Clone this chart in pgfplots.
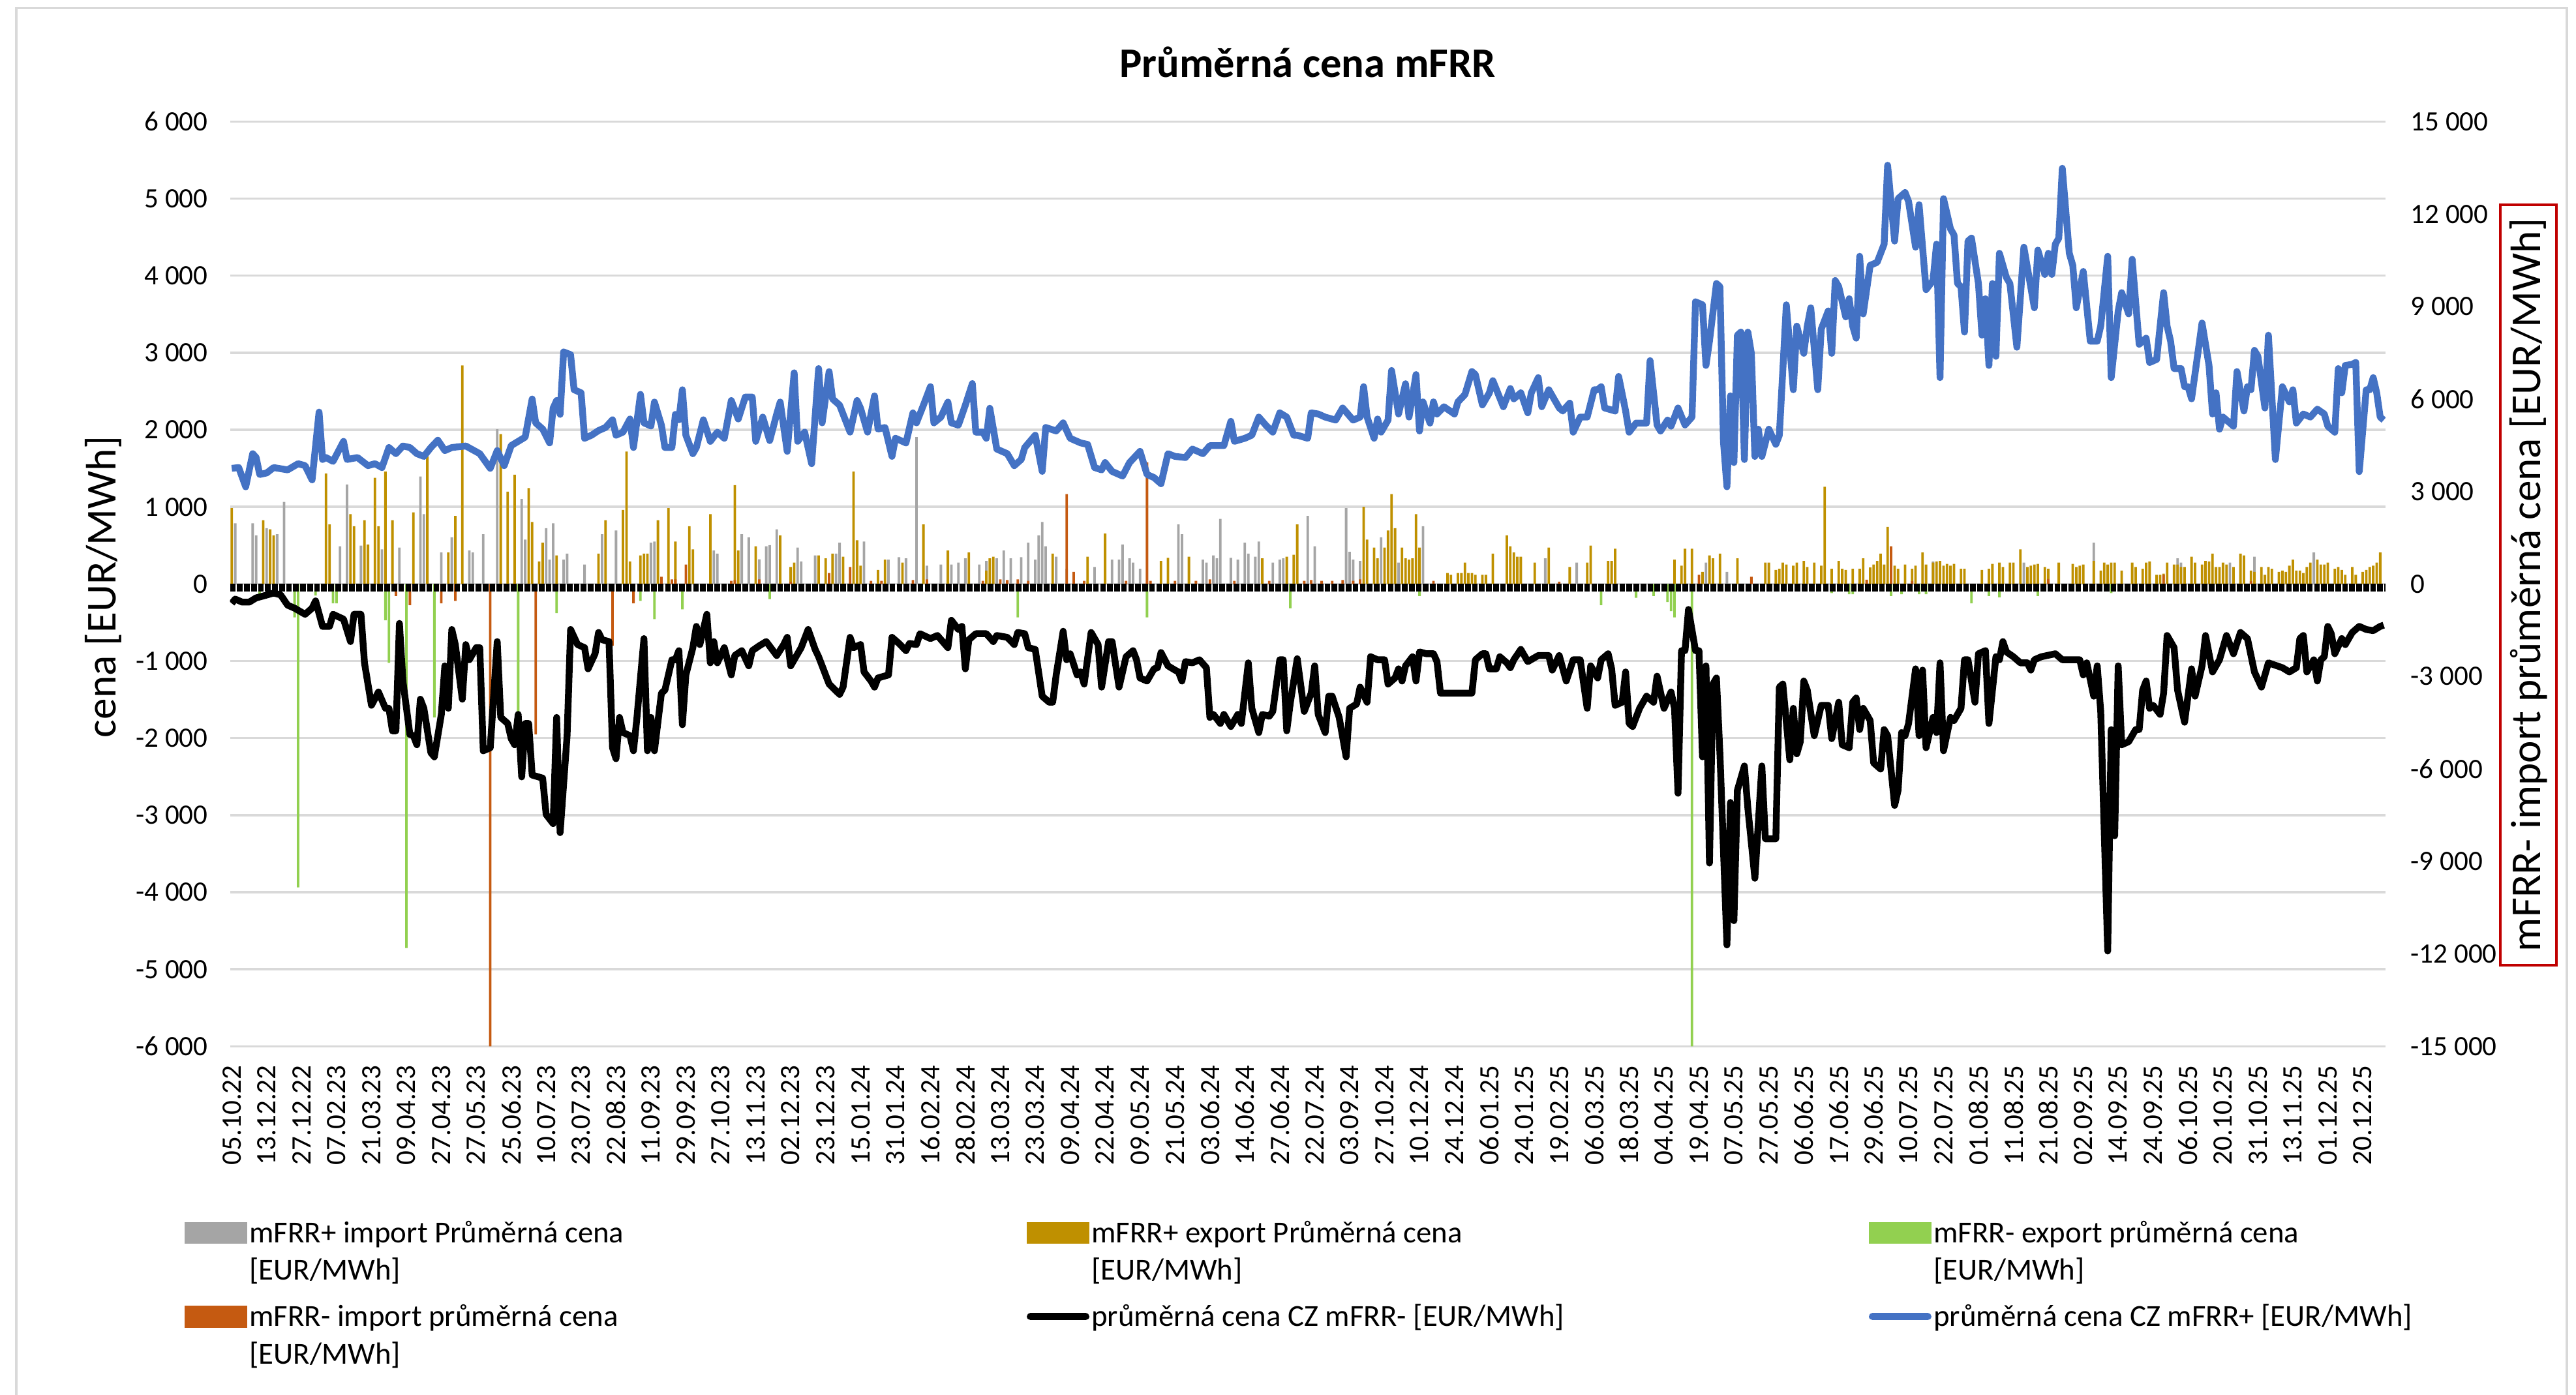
\documentclass[border=0pt]{standalone}
\usepackage{pgfplots}
\pgfplotsset{compat=1.18}
\usepackage{fontspec}
\setmainfont{Carlito}

\definecolor{grayC}{HTML}{A5A5A5}
\definecolor{goldC}{HTML}{BF9000}
\definecolor{greenC}{HTML}{92D050}
\definecolor{orangeC}{HTML}{C55A11}
\definecolor{blueC}{HTML}{4472C4}
\definecolor{gridC}{HTML}{D9D9D9}
\definecolor{boxred}{HTML}{C00000}

\pgfplotsset{
  barswatch/.style={legend image code/.code={
    \path[draw=none, fill=none] (0pt,-7pt) rectangle (13.8pt,7pt);
    \fill[#1, draw=none] (0pt,2.2pt) rectangle (13.8pt,7pt);}},
  lineswatch/.style={legend image code/.code={
    \path[draw=none, fill=none] (0pt,-7pt) rectangle (13.8pt,7pt);
    \draw[#1, fill=none, line width=1.6pt, line cap=round] (0.8pt,4.6pt) -- (13pt,4.6pt);}},
  ticks/.style={font=\fontsize{6.2}{7}\selectfont},
}

\begin{document}
\begin{tikzpicture}
\path[use as bounding box] (0,0) rectangle (569pt,-308.1pt);
\draw[gridC, line width=0.5pt] (3.6pt,-312pt) -- (3.6pt,-1.8pt) -- (567pt,-1.8pt) -- (567pt,-312pt);

% right scale
\begin{axis}[
  at={(50.8pt,-231.16pt)}, anchor=south west,
  scale only axis, width=476.1pt, height=204.3pt,
  xmin=-0.5, xmax=616.5, ymin=-15000, ymax=15000,
  hide x axis, axis y line*=right, axis line style={draw=none},
  major tick length=0pt,
  ytick={-15000,-12000,...,15000},
  yticklabel style={ticks, anchor=west, inner sep=0pt},
  yticklabel shift=5.4pt,
  /pgf/number format/assume math mode=true,
  /pgf/number format/1000 sep={\ },
  scaled y ticks=false,
  ylabel={mFRR- import průměrná cena [EUR/MWh]},
  every axis y label/.style={at={(axis description cs:1.0663,0.499)}, anchor=center, rotate=90,
    draw=boxred, line width=0.6pt, inner xsep=3pt, inner ysep=2pt, font=\fontsize{9.4}{11}\selectfont},
]
\addplot[draw=none, forget plot] coordinates {(0,0)};
\end{axis}

\begin{axis}[
  at={(50.8pt,-231.16pt)}, anchor=south west,
  scale only axis, width=476.1pt, height=204.3pt,
  xmin=-0.5, xmax=616.5, ymin=-6000, ymax=6000,
  axis line style={draw=none},
  major tick length=0pt,
  xtick={0,10,...,610},
  xticklabels={05.10.22,13.12.22,27.12.22,07.02.23,21.03.23,09.04.23,27.04.23,27.05.23,25.06.23,10.07.23,
    23.07.23,22.08.23,11.09.23,29.09.23,27.10.23,13.11.23,02.12.23,23.12.23,15.01.24,31.01.24,
    16.02.24,28.02.24,13.03.24,23.03.24,09.04.24,22.04.24,09.05.24,21.05.24,03.06.24,14.06.24,
    27.06.24,22.07.24,03.09.24,27.10.24,10.12.24,24.12.24,06.01.25,24.01.25,19.02.25,06.03.25,
    18.03.25,04.04.25,19.04.25,07.05.25,27.05.25,06.06.25,17.06.25,29.06.25,10.07.25,22.07.25,
    01.08.25,11.08.25,21.08.25,02.09.25,14.09.25,24.09.25,06.10.25,20.10.25,31.10.25,13.11.25,
    01.12.25,20.12.25},
  xticklabel style={ticks, rotate=90, anchor=east, inner sep=0pt},
  xticklabel shift=4pt,
  ytick={-6000,-5000,...,6000},
  yticklabel style={ticks, anchor=east, inner sep=0pt},
  yticklabel shift=4.7pt,
  ymajorgrids, grid style={gridC, line width=0.5pt},
  /pgf/number format/assume math mode=true,
  /pgf/number format/1000 sep={\ },
  scaled y ticks=false,
  title={Průměrná cena mFRR},
  every axis title/.style={at={(axis description cs:0.5,1.064)}, anchor=center,
    font=\bfseries\fontsize{9.3}{11}\selectfont},
  ylabel={cena [EUR/MWh]},
  every axis y label/.style={at={(axis description cs:-0.0587,0.497)}, anchor=center, rotate=90,
    font=\fontsize{9.4}{11}\selectfont},
  legend columns=3,
  legend cell align=left,
  legend style={at={(axis description cs:-0.0214,-0.180)}, anchor=north west,
    draw=none, fill=none, inner sep=0pt,
    font=\fontsize{6.75}{8.35}\selectfont,
    column sep=0pt, row sep=0.8pt,
    nodes={inner sep=0.5pt, text depth=},
    /tikz/every even column/.append style={column sep=63.2pt}},
]
% mFRR+ import
\addplot[ybar, bar width=0.55pt, bar shift=0pt, draw=none, fill=grayC, barswatch=grayC] coordinates {
(1,787)(6,787)(7,630)(10,724)(13,646)(15,1063)(31,488)(33,1291)(37,496)(43,449)(48,472)(54,1394)(55,906)
(60,409)(63,606)(68,433)(69,409)(72,646)(76,2008)(83,1102)(84,575)(90,724)(91,315)(92,787)(95,315)(96,394)
(101,252)(106,646)(110,693)(120,535)(121,551)(138,433)(139,394)(146,646)(148,606)(151,320)(153,488)(154,504)
(156,709)(162,472)(163,291)(167,370)(173,394)(174,535)(181,551)(188,315)(191,346)(193,331)(196,1906)(199,236)
(203,252)(206,252)(208,276)(210,331)(214,252)(216,299)(219,331)(221,433)(223,331)(226,346)(228,535)(230,315)
(231,630)(232,803)(233,488)(236,354)(239,197)(247,220)(252,315)(254,315)(255,512)(257,331)(258,276)(260,197)
(271,772)(272,646)(278,315)(279,276)(281,370)(282,331)(283,843)(286,339)(288,315)(290,535)(291,394)(293,354)
(294,551)(298,276)(300,315)(301,331)(308,882)(310,488)(319,984)(320,417)(321,315)(323,299)(329,606)(334,276)
(341,748)(376,331)(385,276)(422,276)(428,157)(487,291)(513,276)(533,535)(557,331)(558,276)(572,276)(579,354)
(596,409)};
\addlegendentry{\parbox[t]{108pt}{\strut mFRR+ import Průměrná cena\\\strut [EUR/MWh]}}
% mFRR+ export
\addplot[ybar, bar width=0.55pt, bar shift=0pt, draw=none, fill=goldC, barswatch=goldC] coordinates {
(0,984)(9,827)(11,709)(12,630)(27,1433)(28,772)(34,906)(35,748)(38,827)(39,512)(41,1378)(42,748)(44,1457)
(46,827)(52,929)(56,1654)(62,409)(64,882)(66,2835)(77,1945)(79,1197)(81,1417)(85,1244)(86,803)(88,291)(89,535)
(93,370)(105,394)(107,827)(112,961)(113,1717)(114,291)(117,370)(118,394)(119,394)(122,827)(125,984)(127,551)
(131,748)(132,449)(137,906)(144,1283)(145,433)(150,488)(157,630)(160,220)(161,276)(168,370)(170,331)(172,394)
(175,354)(178,1457)(179,567)(180,236)(185,181)(187,315)(192,276)(198,772)(205,433)(211,409)(216,173)(217,331)
(218,354)(235,394)(245,354)(250,654)(266,299)(268,339)(274,354)(295,331)(302,354)(304,378)(305,772)(324,1000)
(325,575)(327,472)(328,331)(330,472)(331,693)(332,1165)(333,724)(335,472)(336,331)(337,315)(338,331)(339,906)
(340,472)(348,142)(349,118)(351,142)(352,142)(353,276)(354,142)(355,142)(356,118)(358,118)(359,118)(361,394)
(365,630)(366,488)(367,409)(368,354)(369,354)(373,276)(377,472)(383,220)(388,276)(389,496)(394,299)(395,299)
(396,457)(413,315)(415,236)(416,457)(418,457)(421,157)(423,370)(424,331)(426,394)(431,331)(439,276)(440,276)
(442,181)(443,197)(444,276)(445,252)(447,236)(448,276)(450,299)(451,220)(453,276)(455,236)(456,1260)(458,197)
(460,299)(461,197)(462,181)(464,197)(466,197)(467,331)(469,213)(470,252)(471,299)(472,394)(473,252)(474,740)
(476,236)(477,197)(479,252)(481,197)(482,236)(484,409)(485,252)(487,276)(488,291)(489,299)(490,236)(491,260)
(492,236)(493,260)(495,197)(496,197)(501,181)(503,197)(504,260)(506,276)(507,220)(509,276)(510,276)(512,449)
(514,220)(515,236)(516,252)(517,260)(519,220)(520,197)(523,276)(527,260)(528,220)(529,236)(530,252)(533,299)
(535,173)(536,276)(537,252)(538,276)(539,276)(541,173)(544,276)(545,220)(547,197)(548,276)(549,291)(551,118)
(552,118)(553,134)(554,276)(556,252)(557,252)(558,220)(559,220)(561,354)(562,276)(564,252)(565,299)(566,291)
(567,394)(568,220)(569,220)(570,276)(571,252)(573,220)(575,394)(576,370)(578,173)(579,157)(581,220)(582,118)
(583,220)(584,197)(586,157)(587,173)(588,157)(589,236)(590,315)(591,173)(592,173)(593,142)(594,220)(595,276)
(597,315)(598,252)(599,252)(600,276)(602,197)(603,220)(604,181)(605,118)(607,220)(608,118)(610,157)(611,181)
(612,220)(613,236)(614,276)(615,409)};
\addlegendentry{\parbox[t]{108pt}{\strut mFRR+ export Průměrná cena\\\strut [EUR/MWh]}}
% mFRR- export
\addplot[ybar, bar width=0.55pt, bar shift=0pt, draw=none, fill=greenC, barswatch=greenC] coordinates {
(8,-142)(18,-433)(19,-3937)(24,-150)(29,-252)(30,-252)(44,-472)(45,-1024)(50,-4724)(58,-1732)(82,-1811)
(93,-378)(117,-220)(121,-457)(129,-331)(154,-197)(169,-60)(225,-433)(262,-433)(303,-315)(340,-157)(392,-276)
(402,-181)(407,-157)(411,-236)(412,-354)(413,-433)(418,-6000)(458,-118)(463,-134)(464,-134)(475,-157)
(478,-134)(483,-134)(485,-134)(498,-252)(503,-157)(506,-173)(517,-157)(538,-118)};
\addlegendentry{\parbox[t]{108pt}{\strut mFRR- export průměrná cena\\\strut [EUR/MWh]}}
% mFRR- import
\addplot[ybar, bar width=0.55pt, bar shift=0pt, draw=none, fill=orangeC, barswatch=orangeC] coordinates {
(47,-157)(51,-276)(60,-252)(64,-220)(74,-6000)(87,-1953)(109,-803)(115,-252)(123,94)(126,60)(127,60)(130,252)
(143,40)(144,50)(151,60)(160,30)(171,142)(177,220)(183,40)(186,40)(195,50)(199,60)(215,40)(220,60)(222,50)
(225,60)(228,40)(239,1165)(241,157)(244,40)(256,40)(262,1575)(263,40)(270,40)(276,40)(280,60)(287,40)(297,40)
(307,40)(309,50)(312,40)(315,40)(318,50)(321,40)(323,60)(344,40)(380,30)(420,118)(435,94)(468,55)(475,488)
(481,39)(520,63)(553,118)(578,39)};
\addlegendentry{\parbox[t]{108pt}{\strut mFRR- import průměrná cena\\\strut [EUR/MWh]}}
% category axis line
\addplot[black, line width=1.7pt, dash pattern=on 1.25pt off 0.3pt, forget plot] coordinates {(-0.5,-50) (616.5,-50)};
% CZ mFRR-
\addplot[black, line width=1.5pt, line join=round, mark=none, lineswatch=black] coordinates {
(0,-252)(1,-197)(3,-236)(5,-236)(7,-181)(9,-157)(12,-118)(14,-142)(16,-276)(18,-315)(21,-394)(23,-315)(24,-220)
(26,-551)(28,-551)(29,-394)(32,-457)(34,-748)(35,-394)(37,-394)(38,-1024)(40,-1575)(42,-1402)(44,-1614)(45,-1614)
(46,-1906)(47,-1906)(48,-512)(49,-1260)(51,-1953)(52,-1969)(53,-2087)(54,-1496)(55,-1614)(57,-2189)(58,-2244)
(60,-1693)(61,-1063)(62,-1614)(63,-591)(64,-787)(66,-1496)(67,-787)(68,-984)(70,-827)(71,-827)(72,-2165)
(74,-2126)(76,-748)(77,-1732)(79,-1811)(80,-2008)(81,-2087)(82,-1693)(83,-2504)(84,-1811)(85,-1811)(86,-2480)
(89,-2520)(90,-2992)(92,-3110)(93,-1732)(94,-3228)(96,-1969)(97,-591)(99,-787)(101,-827)(102,-1102)(104,-906)
(105,-630)(106,-724)(108,-748)(109,-2126)(110,-2268)(111,-1732)(112,-1929)(114,-1969)(115,-2165)(116,-1732)
(118,-709)(119,-2165)(120,-1732)(121,-2165)(123,-1417)(124,-1378)(126,-984)(127,-984)(128,-866)(129,-1827)
(130,-1181)(132,-827)(133,-551)(134,-787)(136,-394)(137,-1024)(138,-748)(139,-1024)(141,-827)(143,-1181)
(144,-929)(146,-866)(148,-1063)(149,-866)(151,-803)(153,-748)(156,-929)(158,-787)(159,-693)(160,-1063)
(163,-827)(165,-591)(167,-850)(168,-945)(171,-1299)(174,-1433)(175,-1339)(177,-693)(178,-827)(180,-787)
(181,-1142)(183,-1260)(184,-1339)(185,-1220)(188,-1181)(189,-693)(191,-772)(193,-866)(194,-772)(196,-787)
(197,-646)(200,-709)(202,-669)(205,-827)(206,-472)(208,-591)(209,-551)(210,-1102)(211,-724)(213,-646)(216,-646)
(218,-748)(219,-669)(222,-693)(224,-787)(225,-630)(227,-646)(228,-827)(230,-850)(232,-1457)(234,-1535)
(235,-1535)(236,-1181)(238,-614)(239,-984)(240,-906)(242,-1181)(243,-1142)(244,-1299)(246,-630)(247,-709)
(248,-787)(249,-1339)(251,-748)(252,-748)(254,-1339)(256,-945)(258,-866)(259,-984)(260,-1220)(262,-1260)
(264,-1102)(265,-1087)(266,-890)(268,-1063)(270,-1118)(271,-1142)(272,-1260)(273,-1008)(275,-1024)(277,-984)
(279,-1087)(280,-1732)(281,-1693)(283,-1811)(284,-1693)(286,-1850)(288,-1693)(289,-1811)(291,-1024)(292,-1614)
(294,-1929)(295,-1693)(297,-1717)(298,-1654)(300,-984)(301,-984)(302,-1906)(303,-1550)(305,-970)(307,-1654)
(309,-1417)(310,-1063)(311,-1693)(313,-1929)(314,-1457)(315,-1457)(317,-1732)(319,-2244)(320,-1614)(322,-1559)
(323,-1339)(325,-1535)(326,-945)(328,-984)(330,-984)(331,-1299)(333,-1220)(334,-1102)(335,-1260)(336,-1063)
(338,-945)(339,-1260)(340,-882)(342,-906)(344,-906)(345,-1008)(346,-1417)(355,-1417)(356,-984)(358,-906)
(359,-906)(360,-1102)(362,-1102)(363,-945)(365,-1024)(366,-1087)(367,-984)(369,-850)(371,-1008)(374,-929)
(377,-929)(378,-1118)(380,-929)(382,-1260)(384,-984)(386,-984)(388,-1614)(389,-1063)(391,-1220)(392,-984)
(394,-906)(395,-1102)(396,-1575)(398,-1535)(399,-1142)(400,-1811)(401,-1850)(403,-1614)(405,-1457)(407,-1535)
(408,-1197)(410,-1614)(412,-1402)(413,-1614)(414,-2717)(415,-866)(416,-866)(417,-331)(419,-866)(420,-866)
(421,-2244)(422,-1063)(423,-3622)(424,-1299)(425,-1220)(426,-2205)(428,-4685)(429,-2835)(430,-4370)(431,-2677)
(433,-2362)(434,-2913)(436,-3819)(438,-2362)(439,-3307)(442,-3307)(443,-1339)(444,-1299)(446,-2283)(447,-1614)
(448,-2205)(449,-2047)(450,-1260)(451,-1378)(453,-1969)(455,-1575)(457,-1575)(458,-2008)(460,-1535)(461,-2087)
(463,-2126)(464,-1535)(465,-1480)(466,-1890)(467,-1614)(469,-1772)(470,-2323)(472,-2402)(473,-1890)(474,-1969)
(476,-2874)(477,-2677)(478,-1929)(479,-1969)(480,-1811)(482,-1102)(483,-1969)(484,-1118)(485,-2126)(487,-1732)
(488,-1929)(489,-1024)(490,-2165)(492,-1732)(493,-1772)(495,-1614)(496,-984)(497,-984)(499,-1535)(500,-906)
(502,-866)(503,-1811)(505,-945)(506,-984)(507,-748)(508,-882)(510,-945)(512,-1024)(514,-1024)(515,-1118)
(516,-984)(518,-945)(522,-906)(524,-984)(529,-984)(530,-1181)(531,-1024)(533,-1457)(534,-1063)(535,-1654)
(537,-4764)(538,-1890)(539,-3268)(540,-1063)(541,-2087)(543,-2047)(545,-1890)(546,-1890)(547,-1378)(548,-1260)
(549,-1614)(550,-1575)(552,-1693)(553,-1417)(554,-669)(556,-827)(557,-1378)(559,-1795)(561,-1102)(562,-1457)
(564,-1063)(565,-669)(567,-1142)(569,-984)(571,-669)(573,-906)(575,-630)(577,-709)(579,-1142)(581,-1339)
(583,-1024)(587,-1087)(589,-1142)(591,-1087)(592,-709)(593,-669)(594,-1142)(596,-984)(597,-1260)(598,-984)
(599,-945)(600,-551)(601,-646)(602,-906)(604,-709)(605,-787)(607,-630)(609,-551)(611,-591)(613,-606)(615,-551)
(616,-535)};
\addlegendentry{\parbox[t]{108pt}{\strut průměrná cena CZ mFRR- [EUR/MWh]\\\strut}}
% CZ mFRR+
\addplot[blueC, line width=1.5pt, line join=round, mark=none, lineswatch=blueC] coordinates {
(0,1500)(2,1510)(4,1260)(6,1690)(7,1640)(8,1420)(10,1440)(12,1510)(16,1480)(19,1560)(21,1535)(23,1350)(25,2230)
(26,1615)(27,1640)(29,1590)(32,1850)(33,1615)(36,1640)(39,1535)(41,1560)(43,1510)(45,1770)(47,1690)(49,1790)
(51,1770)(53,1690)(55,1655)(57,1770)(59,1865)(61,1730)(63,1770)(67,1790)(71,1690)(74,1500)(76,1730)(78,1535)
(80,1795)(82,1850)(84,1905)(86,2400)(87,2090)(89,2010)(91,1830)(92,2280)(93,2380)(94,2200)(95,3010)(97,2975)
(98,2520)(100,2480)(101,1890)(103,1930)(105,1990)(107,2030)(109,2130)(110,1930)(112,1970)(114,2140)(115,1770)
(117,2460)(118,2090)(120,2050)(121,2360)(123,2060)(124,1770)(126,1770)(127,2200)(128,2130)(129,2520)(130,1930)
(132,1690)(133,1770)(135,2130)(137,1850)(139,1970)(141,1890)(143,2380)(145,2140)(147,2425)(149,2425)(150,1850)
(152,2165)(154,1860)(156,2205)(157,2360)(159,1720)(161,2740)(162,1850)(164,1970)(166,1560)(168,2795)(169,2090)
(171,2755)(172,2400)(174,2320)(177,1970)(179,2380)(180,2280)(182,1970)(184,2440)(185,2010)(187,2030)(189,1655)
(190,1890)(193,1830)(195,2220)(196,2090)(198,2320)(200,2560)(201,2090)(203,2165)(205,2360)(206,2090)(208,2060)
(210,2320)(212,2600)(213,1970)(215,1970)(216,1890)(217,2280)(219,1750)(222,1690)(224,1535)(226,1615)(227,1770)
(230,1930)(232,1460)(233,2030)(236,1985)(238,2090)(240,1890)(243,1830)(245,1810)(247,1510)(249,1480)(250,1575)
(252,1460)(255,1400)(257,1575)(260,1720)(262,1420)(264,1380)(266,1300)(268,1690)(270,1655)(273,1640)(275,1750)
(278,1690)(280,1795)(284,1795)(286,2110)(287,1850)(290,1890)(292,1930)(294,2165)(296,2060)(298,1970)(300,2220)
(302,2165)(304,1930)(305,1930)(308,1890)(309,2220)(311,2205)(313,2165)(316,2126)(318,2283)(321,2126)(323,2165)
(324,2560)(325,2165)(327,1890)(328,2140)(329,1970)(331,2126)(332,2770)(334,2205)(336,2598)(337,2165)(339,2717)
(340,1984)(341,2362)(343,2087)(344,2362)(345,2205)(347,2299)(350,2205)(351,2362)(353,2457)(355,2756)(356,2717)
(358,2323)(360,2480)(361,2638)(364,2299)(366,2535)(367,2402)(369,2480)(371,2220)(372,2480)(374,2677)(375,2299)
(377,2520)(380,2283)(381,2244)(383,2346)(384,1969)(386,2165)(388,2165)(390,2520)(391,2520)(392,2559)(393,2283)
(396,2244)(397,2693)(399,2244)(400,1969)(402,2087)(405,2087)(406,2898)(408,2063)(409,1984)(411,2126)(412,2047)
(414,2283)(416,2063)(418,2165)(419,3661)(421,3622)(422,2835)(423,3150)(425,3898)(426,3858)(427,1850)(428,1260)
(429,2441)(430,1575)(431,3228)(432,3268)(433,1614)(434,3268)(435,2992)(436,1654)(437,2008)(438,1654)(440,2008)
(442,1811)(443,1929)(445,3622)(447,2520)(448,3346)(450,2992)(451,3346)(452,3583)(454,2520)(455,3307)(457,3543)
(458,2992)(459,3937)(460,3858)(462,3465)(463,3701)(464,3346)(465,3189)(466,4252)(467,3504)(469,4134)(471,4173)
(473,4409)(474,5433)(476,4449)(477,5000)(479,5079)(480,4961)(482,4370)(483,4921)(485,3819)(487,3937)(488,4409)
(489,2677)(490,5000)(492,4606)(493,4528)(494,3898)(495,3858)(496,3268)(497,4449)(498,4488)(500,3898)(501,3228)
(502,3701)(503,2835)(504,3898)(505,2953)(506,4291)(508,3976)(509,3898)(511,3071)(513,4370)(516,3583)(517,4331)
(519,4016)(520,4291)(521,4016)(522,4409)(523,4488)(524,5394)(526,4291)(527,4134)(528,3583)(530,4055)(532,3150)
(534,3150)(535,3346)(537,4252)(538,2677)(540,3543)(541,3780)(543,3504)(544,4213)(546,3110)(548,3189)(549,2874)
(551,2913)(553,3780)(554,3346)(555,3150)(556,2795)(558,2795)(559,2559)(560,2559)(561,2402)(564,3386)(566,2835)
(567,2205)(568,2480)(569,2008)(570,2165)(573,2047)(574,2756)(576,2244)(577,2559)(578,2520)(579,3031)(580,2953)
(582,2283)(583,3228)(585,1614)(587,2559)(589,2362)(590,2520)(591,2087)(593,2205)(595,2165)(597,2268)(599,2205)
(600,2047)(602,1969)(603,2795)(604,2480)(605,2835)(607,2850)(608,2874)(609,1457)(611,2520)(612,2520)(613,2677)
(614,2480)(615,2165)(616,2126)};
\addlegendentry{\parbox[t]{108pt}{\strut průměrná cena CZ mFRR+ [EUR/MWh]\\\strut}}
\end{axis}
\end{tikzpicture}
\end{document}
